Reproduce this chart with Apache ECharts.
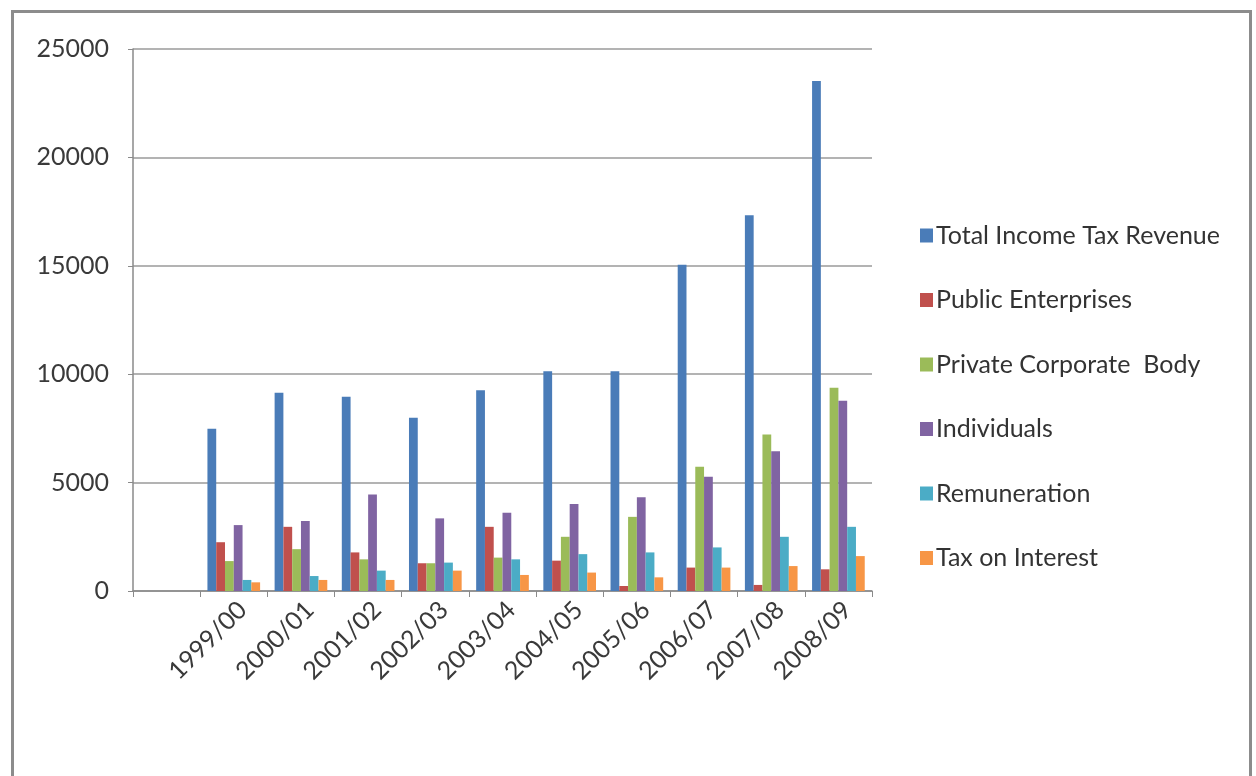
<!DOCTYPE html>
<html>
<head>
<meta charset="utf-8">
<title>Income Tax Revenue by Source</title>
<script src="https://cdn.jsdelivr.net/npm/echarts@6/dist/echarts.min.js"></script>
<style>
  html, body { margin: 0; padding: 0; background: #ffffff; }
  #chart { width: 1256px; height: 776px; }
</style>
</head>
<body>
<div id="chart"></div>
<script>
// Fiscal years; the leading blank slot leaves an empty band next to the value axis
const years = ['', '1999/00', '2000/01', '2001/02', '2002/03', '2003/04', '2004/05', '2005/06', '2006/07', '2007/08', '2008/09'];

const seriesNames = ['Total Income Tax Revenue', 'Public Enterprises', 'Private Corporate  Body', 'Individuals', 'Remuneration', 'Tax on Interest'];

const totalRevenue   = [null, 7480, 9140, 8960, 7990, 9260, 10140, 10140, 15050, 17330, 23520];
const publicEnt      = [null, 2250, 2960, 1780, 1280, 2960, 1400, 230, 1080, 280, 1000];
const privateCorp    = [null, 1380, 1930, 1460, 1280, 1540, 2500, 3420, 5730, 7220, 9370];
const individuals    = [null, 3040, 3230, 4450, 3350, 3610, 4010, 4320, 5270, 6450, 8770];
const remuneration   = [null, 510, 690, 940, 1310, 1460, 1700, 1780, 2010, 2500, 2960];
const taxOnInterest  = [null, 400, 510, 510, 940, 740, 850, 630, 1080, 1150, 1610];

const yTicks = { min: 0, max: 25000, interval: 5000 };

const palette = ['#4A7CB8', '#C0504D', '#9BBB59', '#8064A2', '#4BACC6', '#F79646'];
const valueSets = [totalRevenue, publicEnt, privateCorp, individuals, remuneration, taxOnInterest];

const fontFamily = 'Lato, "Liberation Sans", sans-serif';

const chart = echarts.init(document.getElementById('chart'), null, { renderer: 'canvas' });

chart.setOption({
  backgroundColor: '#ffffff',
  animation: false,
  color: palette,
  graphic: [{
    type: 'rect',
    left: 10, top: 9,
    shape: { x: 0, y: 0, width: 1238, height: 820 },
    style: { fill: 'none', stroke: '#8c8c8c', lineWidth: 3 },
    z: 0
  }],
  grid: { left: 133, right: 384, top: 49, bottom: 185 },
  legend: {
    orient: 'vertical',
    left: 915,
    top: 218,
    itemWidth: 13,
    itemHeight: 14,
    itemGap: 39.5,
    icon: 'rect',
    textStyle: { fontFamily, fontSize: 25, color: '#333333', padding: [0, 0, 0, -2] },
    data: seriesNames
  },
  xAxis: {
    type: 'category',
    data: years,
    boundaryGap: true,
    axisLine: { lineStyle: { color: '#8a8a8a', width: 1.5 } },
    axisTick: { show: true, interval: 0, length: 6, lineStyle: { color: '#8a8a8a', width: 1 } },
    axisLabel: {
      interval: 0,
      rotate: 45,
      margin: 6,
      verticalAlign: 'top',
      fontFamily,
      fontSize: 25,
      color: '#3a3a3a'
    }
  },
  yAxis: {
    type: 'value',
    min: yTicks.min,
    max: yTicks.max,
    interval: yTicks.interval,
    axisLine: { show: true, lineStyle: { color: '#8a8a8a', width: 1.5 } },
    axisTick: { show: true, length: 5, lineStyle: { color: '#8a8a8a' } },
    axisLabel: {
      margin: 24,
      fontFamily,
      fontSize: 25,
      color: '#3a3a3a',
      formatter: v => String(v)
    },
    splitLine: { lineStyle: { color: '#b3b3b3', width: 2 } }
  },
  series: seriesNames.map((name, i) => ({
    name,
    type: 'bar',
    data: valueSets[i],
    barGap: '0%',
    barCategoryGap: '21.6%',
    itemStyle: { color: palette[i] }
  }))
});
</script>
</body>
</html>
